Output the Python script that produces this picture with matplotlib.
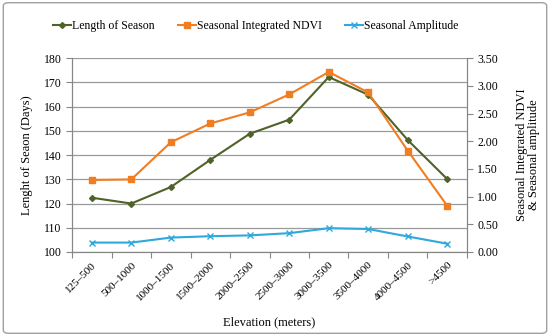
"""Length of season, seasonal integrated NDVI and seasonal amplitude by elevation band."""

import matplotlib

matplotlib.use("Agg")
import matplotlib.pyplot as plt
from matplotlib.patches import FancyBboxPatch

plt.rcParams["font.family"] = ["Liberation Serif", "DejaVu Serif"]

elevation_bands = ["125–500", "500–1000", "1000–1500", "1500–2000", "2000–2500",
                   "2500–3000", "3000–3500", "3500–4000", "4000–4500", ">4500"]
length_of_season = [122.4, 120.0, 126.8, 138.0, 148.8, 154.6, 172.2, 164.9, 146.2, 130.1]
integrated_ndvi = [1.30, 1.31, 1.98, 2.32, 2.52, 2.845, 3.25, 2.88, 1.83, 0.835]
seasonal_amplitude = [0.17, 0.17, 0.26, 0.285, 0.30, 0.34, 0.43, 0.415, 0.28, 0.15]

GREEN = "#4F6228"
ORANGE = "#F07D22"
BLUE = "#2FA8DC"
AXIS_GREY = "#868686"

fig = plt.figure(figsize=(5.5, 3.36), dpi=100)
ax = fig.add_axes([0.131, 0.25, 0.718, 0.577])
ax2 = ax.twinx()

xs = range(len(elevation_bands))
l1, = ax.plot(xs, length_of_season, color=GREEN, marker="D", markersize=3,
              linewidth=1.5, label="Length of Season")
l2, = ax2.plot(xs, integrated_ndvi, color=ORANGE, marker="s", markersize=4,
               linewidth=1.5, label="Seasonal Integrated NDVI")
l3, = ax2.plot(xs, seasonal_amplitude, color=BLUE, marker="x", markersize=4,
               markeredgewidth=1, linewidth=1.5, label="Seasonal Amplitude")

ax.set_ylim(100, 180)
ax.set_yticks(range(100, 181, 10))
ax2.set_ylim(0, 3.5)
ax2.set_yticks([i * 0.5 for i in range(8)])
ax2.set_yticklabels([f"{i * 0.5:.2f}" for i in range(8)])

# Excel-style category axis: ticks between categories, labels at the centres
ax.set_xlim(-0.5, len(elevation_bands) - 0.5)
ax.set_xticks([i - 0.5 for i in range(len(elevation_bands) + 1)])
ax.set_xticklabels([])
ax.set_xticks(list(xs), minor=True)
ax.set_xticklabels(elevation_bands, minor=True, rotation=45, ha="right",
                   rotation_mode="anchor", fontsize=8)
ax.tick_params(axis="x", which="major", length=4, color=AXIS_GREY)
ax.tick_params(axis="x", which="minor", length=0, pad=6)

ax.grid(True, axis="y", color="#9a9a9a", linewidth=0.9)
ax.set_axisbelow(True)
for a in (ax, ax2):
    a.spines["top"].set_visible(False)
    for side in ("left", "right", "bottom"):
        a.spines[side].set_color(AXIS_GREY)
ax.tick_params(axis="y", length=4, color=AXIS_GREY, labelsize=8.5)
ax2.tick_params(axis="y", length=4, color=AXIS_GREY, labelsize=8.5)

ax.set_ylabel("Lenght of Seaon (Days)", fontsize=9, labelpad=8)
ax.set_xlabel("Elevation (meters)", fontsize=9)
ax.xaxis.set_label_coords(0.5, -0.33)
fig.text(0.96, 0.54, "Seasonal Integrated NDVI\n& Seasonal amplitude",
         rotation=90, ha="center", va="center", fontsize=9, linespacing=1.1)

fig.legend(handles=[l1, l2, l3], loc="center", bbox_to_anchor=(0.465, 0.922),
           ncol=3, frameon=False, fontsize=8.5, handlelength=1.5,
           handletextpad=0.1, columnspacing=2.0)

fig.patches.append(FancyBboxPatch((0.006, 0.008), 0.988, 0.984,
                                  boxstyle="round,pad=0,rounding_size=0.01",
                                  transform=fig.transFigure, fill=False,
                                  edgecolor="#a0a0a0", linewidth=1))

fig.savefig("out.png", dpi=100)
